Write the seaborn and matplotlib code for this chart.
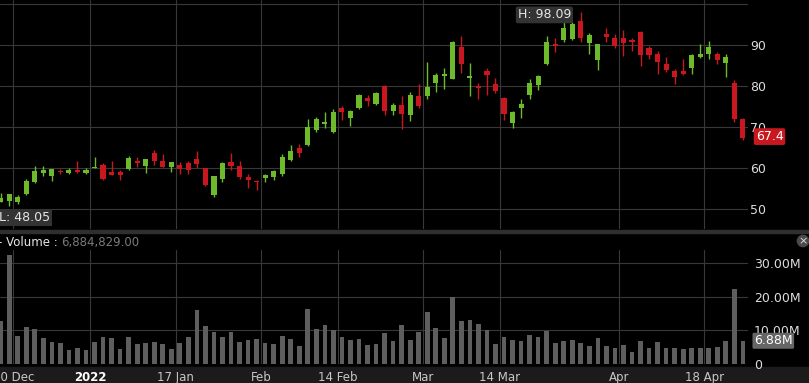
import pandas as pd
import numpy as np
import seaborn as sns
import matplotlib.pyplot as plt
from matplotlib.patches import Rectangle
import matplotlib.transforms as mtransforms

# Daily candles, 16 Dec 2021 .. 22 Apr 2022
opens = [51.8, 52.0, 51.8, 53.7, 56.7, 58.9, 58.2, 59.4, 58.9, 59.7,
         58.9, 60.0, 60.9, 59.1, 59.2, 59.9, 61.7, 60.6, 63.8, 61.8,
         60.2, 60.7, 61.4, 62.2, 60.0, 53.5, 57.3, 61.6, 60.6, 58.0,
         57.0, 57.6, 57.9, 58.5, 62.0, 65.0, 65.6, 69.3, 70.8, 68.8,
         74.6, 72.3, 74.7, 77.2, 75.7, 80.1, 74.0, 75.4, 73.0, 77.7,
         77.7, 80.9, 82.4, 81.9, 89.7, 82.0, 80.1, 83.7, 80.5, 77.2,
         71.0, 74.6, 77.9, 80.3, 85.4, 90.2, 91.3, 91.5, 96.0, 90.6,
         86.4, 92.7, 91.7, 91.9, 91.3, 93.3, 89.3, 87.8, 85.4, 83.8,
         83.8, 84.5, 87.2, 87.8, 87.9, 85.8, 80.7, 72.0]
highs = [54.1, 53.8, 53.4, 57.3, 60.6, 60.6, 59.9, 59.8, 60.1, 61.7,
         60.1, 62.8, 61.2, 61.9, 59.6, 63.0, 62.8, 62.3, 64.5, 63.4,
         61.5, 61.6, 61.9, 64.3, 60.1, 58.2, 61.6, 63.8, 61.8, 58.5,
         57.1, 58.6, 59.7, 63.4, 65.7, 65.9, 72.0, 72.4, 73.7, 74.5,
         75.3, 74.2, 78.1, 77.9, 78.5, 80.2, 75.9, 77.7, 78.5, 80.6,
         85.9, 83.2, 84.4, 91.0, 92.3, 85.6, 80.9, 84.4, 82.0, 77.3,
         74.0, 76.9, 81.8, 82.8, 92.3, 91.7, 95.8, 95.8, 98.09, 92.9,
         90.3, 94.1, 92.7, 93.7, 91.9, 93.4, 89.9, 88.6, 87.1, 84.2,
         86.6, 88.0, 90.2, 91.0, 88.3, 88.0, 81.5, 72.3]
lows = [51.7, 50.7, 51.2, 53.4, 56.5, 58.2, 57.0, 58.5, 58.6, 58.9,
        58.6, 60.0, 57.1, 58.3, 57.1, 59.5, 60.3, 58.9, 60.7, 60.2,
        59.2, 58.6, 58.6, 60.0, 55.8, 53.1, 56.6, 59.6, 57.3, 55.3,
        54.7, 56.6, 57.1, 58.2, 61.8, 62.8, 65.4, 68.9, 69.9, 68.5,
        71.8, 70.4, 74.5, 75.2, 75.4, 73.0, 73.0, 69.6, 71.6, 74.6,
        76.9, 78.7, 79.3, 81.7, 83.3, 77.6, 76.9, 78.0, 78.3, 71.9,
        69.8, 72.3, 76.9, 79.1, 85.2, 88.4, 90.9, 91.3, 90.9, 87.9,
        84.0, 90.9, 89.4, 87.5, 88.6, 85.0, 86.7, 83.0, 83.6, 80.5,
        82.8, 83.0, 87.0, 86.7, 85.4, 82.3, 71.2, 66.9]
closes = [52.7, 53.7, 53.1, 56.9, 59.3, 59.5, 59.9, 59.1, 59.7, 59.1,
          59.7, 60.3, 57.4, 58.4, 58.4, 62.5, 61.3, 62.3, 61.8, 60.3,
          61.5, 59.9, 59.6, 61.0, 55.9, 58.1, 61.4, 60.6, 57.8, 57.1,
          56.6, 58.4, 59.3, 62.8, 64.3, 63.7, 70.0, 72.0, 71.3, 73.7,
          73.7, 74.1, 78.0, 76.3, 78.3, 74.0, 75.5, 73.2, 78.0, 75.2,
          79.9, 82.8, 83.0, 90.9, 85.4, 82.5, 79.5, 82.8, 78.9, 73.2,
          73.8, 75.7, 80.7, 82.6, 90.7, 89.8, 94.3, 95.2, 91.7, 92.5,
          90.2, 92.1, 89.9, 90.5, 90.9, 87.6, 87.6, 86.0, 84.0, 82.3,
          83.0, 87.6, 87.9, 89.7, 86.4, 87.1, 72.0, 67.4]
# volume in millions of shares
volumes = [12.7, 32.2, 8.4, 10.9, 10.5, 7.6, 6.4, 6.1, 4.1, 4.6,
           4.1, 6.4, 8.1, 7.6, 4.4, 8.1, 5.8, 6.1, 6.4, 5.8,
           4.3, 6.1, 7.9, 16.0, 11.2, 9.4, 7.9, 9.4, 6.4, 7.0,
           7.4, 6.1, 5.8, 8.2, 7.4, 5.2, 16.4, 10.3, 11.5, 10.0,
           7.9, 7.0, 7.3, 5.5, 5.8, 9.1, 6.7, 11.7, 7.2, 9.4,
           15.4, 10.8, 7.6, 20.0, 12.7, 13.0, 12.0, 10.2, 5.8, 7.9,
           7.2, 6.9, 8.5, 7.9, 9.9, 6.1, 6.9, 7.2, 6.1, 5.2,
           7.6, 5.4, 4.6, 5.7, 3.7, 6.9, 4.6, 6.6, 4.6, 4.6,
           4.3, 4.8, 4.8, 4.6, 5.1, 6.9, 22.3, 6.884829]

holidays = ["2021-12-24", "2022-01-17", "2022-02-21", "2022-04-15"]
tick_dates = ["2021-12-20", "2022-01-03", "2022-01-17", "2022-02-01", "2022-02-14",
              "2022-03-01", "2022-03-14", "2022-04-01", "2022-04-18"]
tick_labels = ["20 Dec", "2022", "17 Jan", "Feb", "14 Feb", "Mar", "14 Mar", "Apr", "18 Apr"]
price_ticks = [50, 60, 70, 80, 90, 100]
price_labels = ["50", "60", "70", "80", "90", ""]
volume_ticks = [0, 10, 20, 30]
volume_labels = ["0", "10.00M", "20.00M", "30.00M"]

days = pd.bdate_range("2021-12-16", "2022-04-22")
days = days[~days.isin(pd.to_datetime(holidays))]

df = pd.DataFrame({"date": days, "open": opens, "high": highs, "low": lows,
                   "close": closes, "volume": volumes})
df["pos"] = np.arange(len(df))
tick_pos = days.searchsorted(pd.to_datetime(tick_dates)) - 0.5

GREEN = "#6dbb2a"
RED = "#c8171e"
GRID = "#383838"
TXT = "#dcdcdc"

sns.set_theme(style="dark", rc={
    "axes.facecolor": "black", "figure.facecolor": "black",
    "grid.color": GRID, "grid.linewidth": 0.8,
    "axes.grid": True, "patch.edgecolor": "none",
})
plt.rcParams["font.family"] = ["DejaVu Sans"]

W, H = 809, 383
fig = plt.figure(figsize=(W / 100, H / 100), dpi=100)

# bottom date strip and separator between panels
fig.patches.append(Rectangle((0, 0), 1, 16 / H, transform=fig.transFigure,
                             color="#1b1b1b", zorder=-1))
fig.patches.append(Rectangle((0, (H - 233) / H), 1, 3 / H, transform=fig.transFigure,
                             color="#2f2f2f", zorder=-1))

ax_p = fig.add_axes([0, (H - 229) / H, 748 / W, 229 / H])
ax_v = fig.add_axes([0, (H - 364) / H, 748 / W, 114 / H])

# ---- candles
up = df["close"] >= df["open"]
cols = np.where(up, GREEN, RED)
body_lo = np.minimum(df["open"], df["close"])
body_h = np.maximum((df["close"] - df["open"]).abs(), 0.35)
ax_p.vlines(df["pos"], df["low"], df["high"], colors=cols, lw=1, zorder=3)
ax_p.bar(df["pos"], body_h, bottom=body_lo, width=0.6, color=cols,
         edgecolor="none", linewidth=0, zorder=4)

ax_p.set_xlim(-0.08, 87.6)
ax_p.set_ylim(45.2, 101.05)
ax_p.set_xticks(tick_pos)
ax_p.set_xticklabels([])
ax_p.yaxis.tick_right()
ax_p.set_yticks(price_ticks)
ax_p.set_yticklabels(price_labels)
ax_p.tick_params(axis="y", length=0, pad=1.5, labelsize=9, labelcolor=TXT)
ax_p.tick_params(axis="x", length=0)
for s in ax_p.spines.values():
    s.set_visible(False)

# high / low / last price labels
ax_p.annotate("H: 98.09", xy=(df["pos"][df["high"].idxmax()], df["high"].max()),
              xytext=(-7, -2), textcoords="offset points", ha="right", va="center",
              fontsize=9, color="#e6e6e6",
              bbox=dict(boxstyle="round,pad=0.15", fc="#333333", ec="none"))
trans = mtransforms.blended_transform_factory(ax_p.transAxes, ax_p.transData)
ax_p.text(-0.002, 48.05, "L: 48.05", transform=trans, ha="left", va="center",
          fontsize=9, color="#e6e6e6",
          bbox=dict(boxstyle="square,pad=0.15", fc="#333333", ec="none"))
ax_p.annotate(f"{closes[-1]}", xy=(1, closes[-1]), xycoords=trans, xytext=(5.5, 1),
              textcoords="offset points", ha="left", va="center", fontsize=9,
              color="white", annotation_clip=False,
              bbox=dict(boxstyle="round,pad=0.15", fc=RED, ec="none"))

# ---- volume
sns.barplot(data=df, x="pos", y="volume", native_scale=True, width=0.55,
            color="#5e5e5e", saturation=1, errorbar=None, ax=ax_v,
            edgecolor="none", linewidth=0, zorder=3)
ax_v.set_xlim(-0.08, 87.6)
ax_v.set_ylim(0, 33.8)
ax_v.set_xlabel("")
ax_v.set_ylabel("")
ax_v.set_xticks(tick_pos)
ax_v.set_xticklabels(tick_labels)
ax_v.yaxis.tick_right()
ax_v.set_yticks(volume_ticks)
ax_v.set_yticklabels(volume_labels)
ax_v.tick_params(axis="y", length=0, pad=4.3, labelsize=9, labelcolor=TXT)
ax_v.tick_params(axis="x", length=0, pad=5, labelsize=8.5, labelcolor="#c8c8c8")
for lab in ax_v.get_xticklabels():
    if lab.get_text() == "2022":
        lab.set_fontweight("bold")
        lab.set_color("white")
for s in ax_v.spines.values():
    s.set_visible(False)

ax_v.annotate(f"{volumes[-1]:.2f}M", xy=(1, volumes[-1]),
              xycoords=mtransforms.blended_transform_factory(ax_v.transAxes, ax_v.transData),
              xytext=(4.3, 0), textcoords="offset points", ha="left", va="center",
              fontsize=9, color="white", annotation_clip=False,
              bbox=dict(boxstyle="round,pad=0.12", fc="#666666", ec="none"))

# panel header: "- Volume : " then the last volume in grey
t1 = fig.text(-2 / W, 1 - 242 / H, "- Volume : ", ha="left", va="center",
              fontsize=8.5, color="#e6e6e6")
ax_v.annotate(f"{int(round(volumes[-1] * 1e6)):,}.00", xy=(1, 0.5), xycoords=t1,
              ha="left", va="center", fontsize=8.5, color="#7a7a7a",
              annotation_clip=False)
fig.text(803 / W, 1 - 241 / H, "×", ha="center", va="center", fontsize=8,
         color="#dddddd",
         bbox=dict(boxstyle="circle,pad=0.12", fc="#4a4a4a", ec="none"))

fig.savefig("out.png", dpi=100, facecolor="black")
